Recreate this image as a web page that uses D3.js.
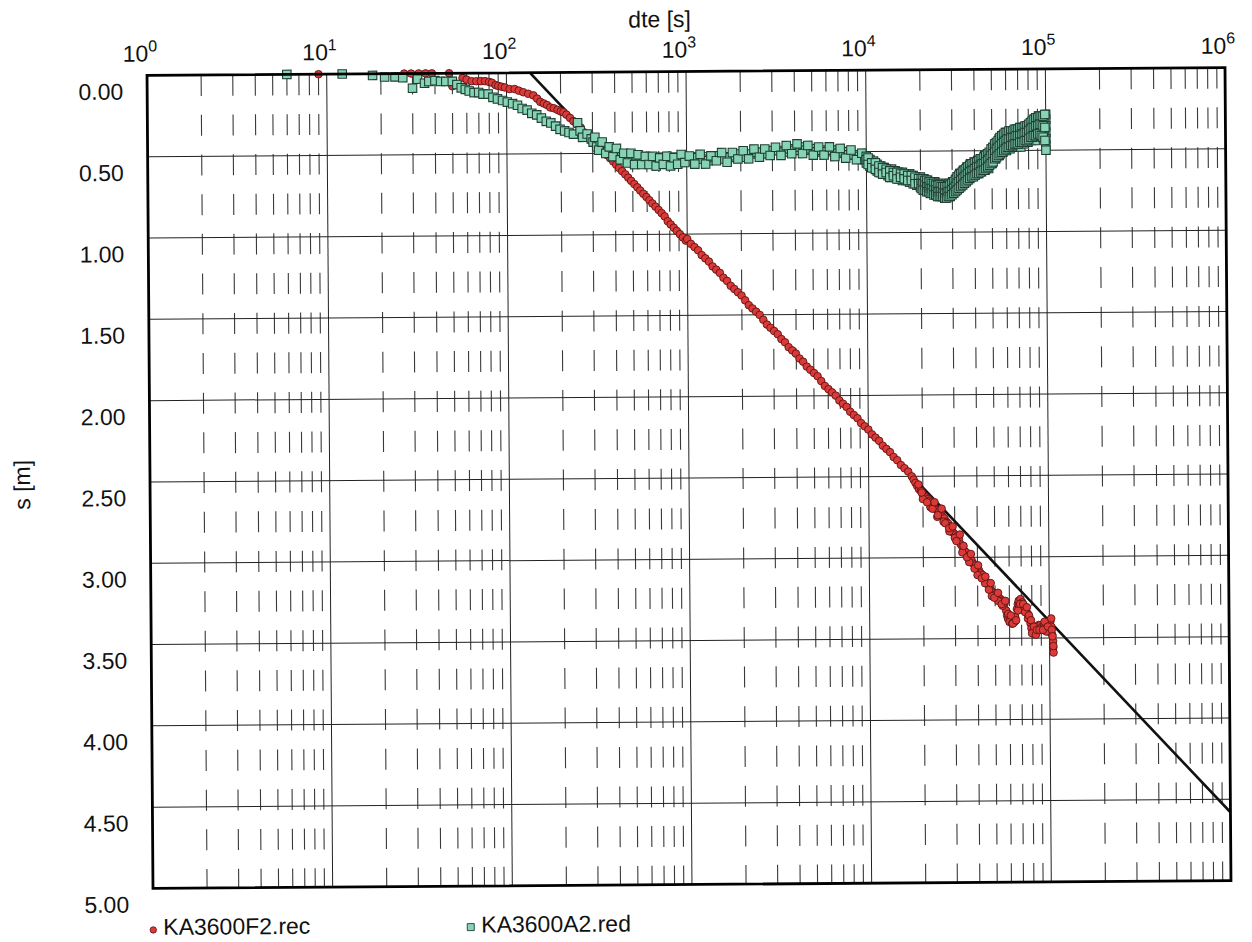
<!DOCTYPE html>
<html>
<head>
<meta charset="utf-8">
<script src="https://cdn.jsdelivr.net/npm/d3@7"></script>
<style>
  html, body { margin: 0; padding: 0; background: #fff; }
  svg { display: block; font-family: "Liberation Sans", Arial, Helvetica, sans-serif; }
</style>
</head>
<body>
<svg id="chart" width="1252" height="942"></svg>
<script>
// Axis definitions
const timeDomain = [1, 1e6];
const drawdownDomain = [0, 5];
const drawdownTicks = [0, 0.5, 1, 1.5, 2, 2.5, 3, 3.5, 4, 4.5, 5];
const drawdownTickLabels = ["0.00", "0.50", "1.00", "1.50", "2.00", "2.50", "3.00", "3.50", "4.00", "4.50", "5.00"];
const decadeExponents = [0, 1, 2, 3, 4, 5, 6];

const xTitle = "dte [s]";
const yTitle = "s [m]";
const seriesNames = ["KA3600F2.rec", "KA3600A2.red"];

// KA3600F2.rec : [elapsed time (s), drawdown (m)]
const f2Points = [
  [9,0],[27,0],[29.5,0],[32.5,0],[35.5,0],[38.5,0],[48,0],[50,0.08],
  [57,0.03],[60,0.04],[64,0.05],[68,0.05],[72,0.05],[76,0.05],[80,0.055],[83,0.06],[87,0.075],[90,0.08],
  [94,0.085],[98,0.09],[104,0.10],[111,0.10],[117,0.11],[124,0.12],[132,0.13],[141,0.14],[148,0.16],
  [154,0.18],[161,0.19],[168,0.20],[175,0.215],[183,0.22],[192,0.23],[200,0.24],[207,0.245],[215,0.26],
  [225,0.28],[235,0.30],[245,0.32],[258,0.34],[270,0.37],[282,0.40],[295,0.42],[307,0.44],[318,0.45],
  [332,0.47],[346,0.49],[360,0.51],[375,0.53],[390,0.55],[405,0.57],[420,0.59],[437,0.61],[455,0.63],
  [472,0.65],[490,0.67],[510,0.69],[530,0.71],[550,0.73],[572,0.75],[595,0.77],[618,0.79],[642,0.81],
  [668,0.83],[695,0.85],[722,0.87],[750,0.89],[780,0.92],[810,0.94],[842,0.96],[875,0.98],[910,1.00],
  [945,1.02],[982,1.04],
  [1000,1.03],[1047,1.06],[1096,1.08],[1148,1.10],[1202,1.13],[1259,1.15],[1318,1.17],[1380,1.20],
  [1445,1.22],[1514,1.24],[1585,1.27],[1660,1.29],[1738,1.32],[1820,1.34],[1905,1.36],[1995,1.38],
  [2089,1.41],[2188,1.44],[2291,1.46],[2399,1.48],[2512,1.50],[2630,1.53],[2754,1.56],[2884,1.58],
  [3020,1.60],[3162,1.62],[3311,1.65],[3467,1.67],[3631,1.70],[3802,1.72],[3981,1.74],[4169,1.77],
  [4365,1.79],[4571,1.82],[4786,1.84],[5012,1.86],[5248,1.88],[5495,1.91],[5754,1.94],[6026,1.96],
  [6310,1.98],[6607,2.00],[6918,2.03],[7244,2.05],[7586,2.07],[7943,2.10],[8318,2.12],[8710,2.14],
  [9120,2.17],[9550,2.19],[10000,2.21],[10470,2.24],[10960,2.26],[11480,2.28],[12020,2.31],[12590,2.33],
  [13180,2.35],[13800,2.38],[14450,2.40],[15140,2.43],[15850,2.45],[16600,2.47],
  [17378,2.50],[17783,2.52],[18197,2.54],[18621,2.56],[19055,2.58],[19498,2.59],[19953,2.61],[20417,2.62],
  [20893,2.63],[21380,2.64],[21878,2.65],[22387,2.66],[22909,2.68],[23442,2.70],[23988,2.71],[24547,2.72],
  [25119,2.73],[25704,2.75],[26303,2.76],[26915,2.78],[27542,2.79],[28184,2.81],[28840,2.83],[29512,2.85],
  [30200,2.86],[30903,2.87],[31623,2.89],[32359,2.92],[33113,2.94],[33884,2.96],[34674,2.97],[35481,2.99],
  [36308,3.00],[37154,3.02],[38019,3.04],[38905,3.05],[39811,3.07],[40738,3.08],[41687,3.10],[42658,3.11],
  [43652,3.13],[44668,3.15],[45709,3.17],[46774,3.19],[47863,3.21],[48978,3.22],[50119,3.23],[51286,3.24],
  [52481,3.25],[53703,3.26],[54954,3.27],[56234,3.29],[57544,3.33],[58210,3.36],[58884,3.38],[60256,3.38],
  [61660,3.39],[63096,3.38],[64565,3.37],[66069,3.32],[66834,3.29],[67608,3.27],[69183,3.26],[70795,3.28],
  [72444,3.30],[74131,3.32],[75858,3.35],[77625,3.38],[78524,3.41],[79433,3.44],[81283,3.46],[83176,3.45],
  [85114,3.43],[87096,3.42],[89125,3.42],[91201,3.43],[93325,3.42],[95499,3.44],[97724,3.46],[100000,3.45],
  [101158,3.40],[102329,3.38],[102329,3.43],[103514,3.48],[104713,3.52],[104713,3.56],[105196,3.59],
  [20000,2.64],[22000,2.69],[24000,2.75],[26000,2.78],[28000,2.84],[30000,2.88],[33000,2.97],[36000,3.03],
  [40000,3.11],[44000,3.16],[48000,3.24],[52000,3.27],[55000,3.30],[60000,3.40],[62000,3.41],[64000,3.40],
  [68000,3.30],[72000,3.33],[76000,3.38],[80000,3.47],[84000,3.48],[90000,3.45],[96000,3.46],
  [18900,2.55],[19700,2.60],[21100,2.66],[22600,2.70],[23200,2.66],[24200,2.74],[25400,2.70],[26600,2.79],
  [27900,2.82],[29200,2.81],[30600,2.90],[32000,2.86],[33500,2.93],[35000,3.00],[36800,2.98],[38500,3.07],
  [40300,3.05],[42200,3.13],[44200,3.12],[46200,3.20],[47300,3.16],[49500,3.25],[51900,3.22],[54300,3.29],
  [56900,3.27],[59000,3.35],[61000,3.36],[62600,3.41],[65300,3.39],[67000,3.33],[68800,3.29],[71600,3.29],
  [73300,3.34],[75000,3.31],[77000,3.36],[79000,3.39],[82000,3.43],[85000,3.45],[88000,3.45],[92000,3.45],
  [94000,3.40],[98000,3.43],[103000,3.45],[104000,3.49],[105000,3.55]
];

// KA3600A2.red : [elapsed time (s), drawdown (m)]
const a2Points = [
  [6,0],[12.2,0],[18,0.01],[21,0.02],[24,0.02],[26.5,0.025],[30,0.09],[32,0.035],[35,0.06],[37,0.05],
  [40,0.045],[43,0.05],[46,0.05],[50,0.05],[53,0.07],[56,0.09],[59,0.10],[62,0.11],[66,0.12],[70,0.12],
  [74,0.13],[79,0.13],[84,0.15],[89,0.16],[95,0.17],[101,0.18],[108,0.19],[115,0.20],[122,0.22],[130,0.23],
  [138,0.25],[147,0.26],[156,0.28],[166,0.30],[176,0.31],[187,0.33],[198,0.35],[210,0.36],[222,0.37],
  [235,0.38],[248,0.31],[256,0.36],[264,0.40],[280,0.38],[295,0.41],
  [302,0.43],[316,0.46],[331,0.45],[347,0.47],[363,0.49],[380,0.48],[398,0.50],[417,0.51],[437,0.52],
  [457,0.53],[479,0.52],[501,0.54],[525,0.53],[550,0.55],[575,0.54],[603,0.55],[631,0.54],[661,0.56],
  [692,0.55],[724,0.55],[759,0.54],[794,0.56],[832,0.55],[871,0.54],[912,0.55],[955,0.53],[1000,0.54],
  [1072,0.55],[1148,0.53],[1230,0.54],[1318,0.55],[1413,0.53],[1514,0.52],[1622,0.54],[1738,0.53],
  [1862,0.52],[1995,0.51],[2138,0.53],[2291,0.51],[2455,0.50],[2630,0.50],[2818,0.51],[3020,0.49],
  [3236,0.49],[3467,0.50],[3715,0.48],[3981,0.49],[4266,0.47],[4571,0.49],[4898,0.48],[5248,0.50],
  [5623,0.49],[6026,0.50],[6457,0.49],[6918,0.51],[7413,0.50],[7943,0.52],[8511,0.52],[9120,0.53],
  [9772,0.55],
  [309,0.40],[324,0.48],[339,0.43],[355,0.50],[371,0.46],[389,0.52],[407,0.47],[427,0.54],[447,0.50],
  [468,0.56],[490,0.50],[513,0.57],[537,0.51],[562,0.57],[589,0.52],[617,0.57],[646,0.52],[676,0.58],
  [708,0.53],[741,0.57],[776,0.52],[813,0.58],[851,0.53],[891,0.57],[933,0.51],[977,0.56],[1035,0.52],
  [1110,0.57],[1189,0.51],[1274,0.57],[1365,0.52],[1463,0.55],[1567,0.50],[1679,0.56],[1799,0.50],
  [1928,0.54],[2065,0.49],[2213,0.54],[2371,0.48],[2541,0.53],[2723,0.48],[2917,0.52],[3126,0.47],
  [3350,0.52],[3589,0.46],[3846,0.51],[4121,0.45],[4416,0.51],[4732,0.46],[5070,0.52],[5433,0.47],
  [5821,0.52],[6238,0.47],[6683,0.53],[7161,0.48],[7674,0.54],[8222,0.49],[8810,0.55],[9440,0.51],
  [10000,0.53],[10000,0.57],[10000,0.55],[10471,0.55],[10471,0.59],[10965,0.56],[10965,0.60],[10965,0.58],
  [11482,0.58],[11482,0.62],[12023,0.59],[12023,0.63],[12023,0.61],[12589,0.60],[12589,0.64],
  [13183,0.61],[13183,0.65],[13183,0.62],[13804,0.61],[13804,0.66],[14454,0.62],[14454,0.66],[14454,0.64],
  [15136,0.63],[15136,0.67],[15849,0.63],[15849,0.68],[15849,0.65],[16596,0.64],[16596,0.68],
  [17378,0.64],[17378,0.69],[17378,0.66],[18197,0.65],[18197,0.70],[19055,0.66],[19055,0.71],[19055,0.68],
  [19953,0.66],[19953,0.72],[20893,0.67],[20893,0.73],[20893,0.70],[21878,0.68],[21878,0.74],
  [22909,0.69],[22909,0.74],[22909,0.71],[23988,0.69],[23988,0.75],[25119,0.70],[25119,0.76],[25119,0.72],
  [26303,0.70],[26303,0.76],[27542,0.71],[27542,0.77],[27542,0.73],[28840,0.70],[28840,0.77],
  [30200,0.69],[30200,0.76],[30200,0.72],[31623,0.67],[31623,0.74],[33113,0.64],[33113,0.72],[33113,0.68],
  [34674,0.62],[34674,0.69],[36308,0.60],[36308,0.67],[36308,0.63],[38019,0.58],[38019,0.66],
  [39811,0.57],[39811,0.65],[39811,0.61],[41687,0.56],[41687,0.64],[43652,0.55],[43652,0.63],[43652,0.59],
  [45709,0.53],[45709,0.62],[47863,0.52],[47863,0.61],[47863,0.56],[50119,0.49],[50119,0.58],
  [52481,0.46],[52481,0.55],[52481,0.51],[54954,0.43],[54954,0.53],[57544,0.41],[57544,0.51],[57544,0.46],
  [60256,0.39],[60256,0.50],[63096,0.38],[63096,0.49],[63096,0.43],[66069,0.38],[66069,0.48],
  [69183,0.37],[69183,0.47],[69183,0.42],[72444,0.37],[72444,0.48],[75858,0.36],[75858,0.46],[75858,0.41],
  [79433,0.35],[79433,0.45],[83176,0.33],[83176,0.44],[83176,0.38],[87096,0.31],[87096,0.44],
  [91201,0.29],[91201,0.40],[91201,0.34],[95499,0.30],[95499,0.42],[95499,0.36],
  [100000,0.28],[100000,0.31],[100000,0.35],[100000,0.39],[100000,0.43],[100000,0.47],[100000,0.50],
  [10233,0.54],[10233,0.58],[10715,0.57],[10715,0.60],[11220,0.57],[11220,0.61],[11749,0.59],[11749,0.63],
  [12303,0.60],[12303,0.64],[12882,0.61],[12882,0.63],[13490,0.62],[13490,0.66],[14125,0.63],[14125,0.65],
  [14791,0.63],[14791,0.67],[15488,0.64],[15488,0.66],[16218,0.64],[16218,0.67],[16982,0.65],[16982,0.68],
  [17783,0.65],[17783,0.68],[18621,0.66],[18621,0.70],[19498,0.67],[19498,0.70],[20417,0.68],[20417,0.71],
  [21380,0.69],[21380,0.72],[22387,0.69],[22387,0.73],[23442,0.70],[23442,0.73],[24547,0.71],[24547,0.74],
  [25704,0.71],[25704,0.75],[26915,0.72],[26915,0.75],[28184,0.72],[28184,0.75],[29512,0.71],[29512,0.74],
  [30903,0.69],[30903,0.73],[32359,0.66],[32359,0.71],[33884,0.64],[33884,0.68],[35481,0.62],[35481,0.66],
  [37154,0.60],[37154,0.64],[38905,0.59],[38905,0.63],[40738,0.58],[40738,0.62],[42658,0.57],[42658,0.61],
  [44668,0.56],[44668,0.60],[46774,0.54],[46774,0.58],[48978,0.52],[48978,0.56],[51286,0.49],[51286,0.53],
  [53703,0.46],[53703,0.50],[56234,0.44],[56234,0.48],[58884,0.42],[58884,0.47],[61660,0.41],[61660,0.45],
  [64565,0.40],[64565,0.44],[67608,0.40],[67608,0.44],[70795,0.39],[70795,0.44],[74131,0.39],[74131,0.43],
  [77625,0.38],[77625,0.42],[81283,0.36],[81283,0.41],[85114,0.34],[85114,0.40],[89125,0.32],[89125,0.38],
  [93325,0.31],[93325,0.37],[97724,0.30],[97724,0.38],
  [20184,0.67],[20184,0.70],[20184,0.73],[20654,0.67],[20654,0.70],[20654,0.74],[21135,0.68],[21135,0.71],[21135,0.74],
  [21627,0.68],[21627,0.72],[21627,0.75],[22131,0.69],[22131,0.72],[22131,0.75],[22646,0.69],[22646,0.73],[22646,0.76],
  [23174,0.70],[23174,0.73],[23174,0.76],[23714,0.70],[23714,0.74],[23714,0.77],[24266,0.71],[24266,0.74],[24266,0.77],
  [24831,0.71],[24831,0.75],[24831,0.78],[25410,0.71],[25410,0.75],[25410,0.78],[26002,0.72],[26002,0.75],[26002,0.78],
  [26607,0.72],[26607,0.76],[26607,0.78],[27227,0.72],[27227,0.76],[27227,0.79],[27861,0.72],[27861,0.76],[27861,0.79],
  [28510,0.72],[28510,0.75],[28510,0.78],[29174,0.71],[29174,0.75],[29174,0.78],[29854,0.70],[29854,0.74],[29854,0.77],
  [30549,0.69],[30549,0.73],[30549,0.76],[31261,0.68],[31261,0.72],[31261,0.75],[31989,0.66],[31989,0.70],[31989,0.74],
  [32734,0.65],[32734,0.69],[32734,0.73],[33497,0.64],[33497,0.68],[33497,0.72],[34277,0.63],[34277,0.67],[34277,0.71],
  [35075,0.62],[35075,0.66],[35075,0.70],[35892,0.61],[35892,0.65],[35892,0.69],[36728,0.60],[36728,0.64],[36728,0.68],
  [37584,0.59],[37584,0.63],[37584,0.67],[38459,0.58],[38459,0.62],[38459,0.66],[39355,0.58],[39355,0.62],[39355,0.66],
  [40272,0.57],[40272,0.61],[40272,0.65],[41210,0.57],[41210,0.60],[41210,0.64],[42170,0.56],[42170,0.60],[42170,0.64],
  [43152,0.55],[43152,0.59],[43152,0.63],[44157,0.55],[44157,0.58],[44157,0.62],[45186,0.54],[45186,0.58],[45186,0.62],
  [46238,0.53],[46238,0.57],[46238,0.61],[47315,0.52],[47315,0.56],[47315,0.60],[48417,0.51],[48417,0.55],[48417,0.59],
  [49545,0.49],[49545,0.53],[49545,0.58],[50699,0.48],[50699,0.52],[50699,0.57],[51880,0.46],[51880,0.51],[51880,0.55],
  [53088,0.45],[53088,0.49],[53088,0.54],[54325,0.44],[54325,0.48],[54325,0.53],[55590,0.42],[55590,0.47],[55590,0.52],
  [56885,0.41],[56885,0.46],[56885,0.51],[58210,0.40],[58210,0.45],[58210,0.50],[59566,0.39],[59566,0.44],[59566,0.49],
  [60954,0.39],[60954,0.43],[60954,0.48],[62373,0.38],[62373,0.43],[62373,0.48],[63826,0.38],[63826,0.42],[63826,0.47],
  [65313,0.38],[65313,0.42],[65313,0.47],[66834,0.37],[66834,0.42],[66834,0.46],[68391,0.37],[68391,0.41],[68391,0.46],
  [69984,0.37],[69984,0.41],[69984,0.46],[71614,0.36],[71614,0.41],[71614,0.45],[73282,0.36],[73282,0.40],[73282,0.45],
  [74989,0.36],[74989,0.40],[74989,0.45],[76736,0.35],[76736,0.39],[76736,0.44],[78524,0.35],[78524,0.39],[78524,0.44],
  [80353,0.34],[80353,0.38],[80353,0.43],[82224,0.33],[82224,0.37],[82224,0.42],[84140,0.32],[84140,0.36],[84140,0.42],
  [86099,0.31],[86099,0.36],[86099,0.41],[88105,0.30],[88105,0.35],[88105,0.41],[90157,0.30],[90157,0.35],[90157,0.40],
  [92257,0.29],[92257,0.34],[92257,0.40],[94406,0.29],[94406,0.34],[94406,0.41],[96605,0.29],[96605,0.35],[96605,0.42],
  [98855,0.28],[98855,0.36],[98855,0.44]
];

// Straight-line fit through the late-time drawdown
const fitTime = [135, 1e6];
const fitDrawdown = [0, 4.58];

// ---- layout ----
const svg = d3.select("#chart");
const plot = { left: 150, top: 71.5, width: 1078, height: 813 };
const tilt = -0.42;               // slight counter-clockwise tilt of the whole sheet
const cx = 689, cy = 478;

const root = svg.append("g").attr("transform", `rotate(${tilt},${cx},${cy})`);

const x = d3.scaleLog().domain(timeDomain).range([0, plot.width]);
const y = d3.scaleLinear().domain(drawdownDomain).range([0, plot.height]);

const g = root.append("g").attr("transform", `translate(${plot.left},${plot.top})`);

// minor (2..9) vertical lines, dashed
const allTicks = x.ticks();
const decadeVals = decadeExponents.map(e => Math.pow(10, e));
const isDecade = v => decadeVals.some(d => Math.abs(v - d) / d < 1e-9);
const minorTicks = allTicks.filter(v => !isDecade(v));

g.append("g").selectAll("line").data(minorTicks).join("line")
  .attr("x1", d => x(d)).attr("x2", d => x(d))
  .attr("y1", 0).attr("y2", plot.height)
  .attr("stroke", "#3a3a3a").attr("stroke-width", 1.1)
  .attr("stroke-dasharray", "21 18.7");

// decade lines
g.append("g").selectAll("line").data(decadeVals.slice(1, -1)).join("line")
  .attr("x1", d => x(d)).attr("x2", d => x(d))
  .attr("y1", 0).attr("y2", plot.height)
  .attr("stroke", "#222").attr("stroke-width", 1);

// horizontal grid lines
g.append("g").selectAll("line").data(drawdownTicks.slice(1, -1)).join("line")
  .attr("x1", 0).attr("x2", plot.width)
  .attr("y1", d => y(d)).attr("y2", d => y(d))
  .attr("stroke", "#222").attr("stroke-width", 1);

// y tick labels (set below each line)
g.append("g").selectAll("text").data(drawdownTicks).join("text")
  .attr("x", -24).attr("y", d => y(d) + 24)
  .attr("text-anchor", "end").attr("font-size", 23).attr("fill", "#111")
  .text((d, i) => drawdownTickLabels[i]);

// x tick labels: 10^n
const xl = g.append("g").selectAll("text").data(decadeExponents).join("text")
  .attr("x", d => x(Math.pow(10, d)) - 7).attr("y", -14)
  .attr("text-anchor", "middle").attr("font-size", 23).attr("fill", "#111");
xl.append("tspan").text("10");
xl.append("tspan").attr("dy", -10).attr("font-size", 16).text(d => d);

// axis titles
root.append("text").attr("x", 663).attr("y", 27)
  .attr("text-anchor", "middle").attr("font-size", 23).attr("fill", "#111").text(xTitle);
root.append("text").attr("transform", "translate(30,480) rotate(-90)")
  .attr("text-anchor", "middle").attr("font-size", 23).attr("fill", "#111").text(yTitle);

// fit line
g.append("line")
  .attr("x1", x(fitTime[0])).attr("y1", y(fitDrawdown[0]))
  .attr("x2", x(fitTime[1])).attr("y2", y(fitDrawdown[1]))
  .attr("stroke", "#111").attr("stroke-width", 2.6);

// data markers
const redFill = "#dc3a38", redStroke = "#5e1414";
const greenFill = "#86d3b5", greenStroke = "#1f3f33";

g.append("g").selectAll("circle").data(f2Points).join("circle")
  .attr("cx", d => x(d[0])).attr("cy", d => y(d[1])).attr("r", 3.8)
  .attr("fill", redFill).attr("stroke", redStroke).attr("stroke-width", 0.9);

const sq = 8.5;
g.append("g").selectAll("rect").data(a2Points).join("rect")
  .attr("x", d => x(d[0]) - sq / 2).attr("y", d => y(d[1]) - sq / 2)
  .attr("width", sq).attr("height", sq)
  .attr("fill", greenFill).attr("stroke", greenStroke).attr("stroke-width", 1.1);

// frame
g.append("rect").attr("x", 0).attr("y", 0).attr("width", plot.width).attr("height", plot.height)
  .attr("fill", "none").attr("stroke", "#000").attr("stroke-width", 2.8);

// legend
const leg = root.append("g");
leg.append("circle").attr("cx", 150).attr("cy", 926).attr("r", 3.2)
  .attr("fill", redFill).attr("stroke", redStroke).attr("stroke-width", 0.8);
leg.append("text").attr("x", 160).attr("y", 931).attr("font-size", 23).attr("fill", "#111").text(seriesNames[0]);
leg.append("rect").attr("x", 464).attr("y", 922).attr("width", 7).attr("height", 7)
  .attr("fill", greenFill).attr("stroke", greenStroke).attr("stroke-width", 0.9);
leg.append("text").attr("x", 478).attr("y", 931).attr("font-size", 23).attr("fill", "#111").text(seriesNames[1]);
</script>
</body>
</html>
